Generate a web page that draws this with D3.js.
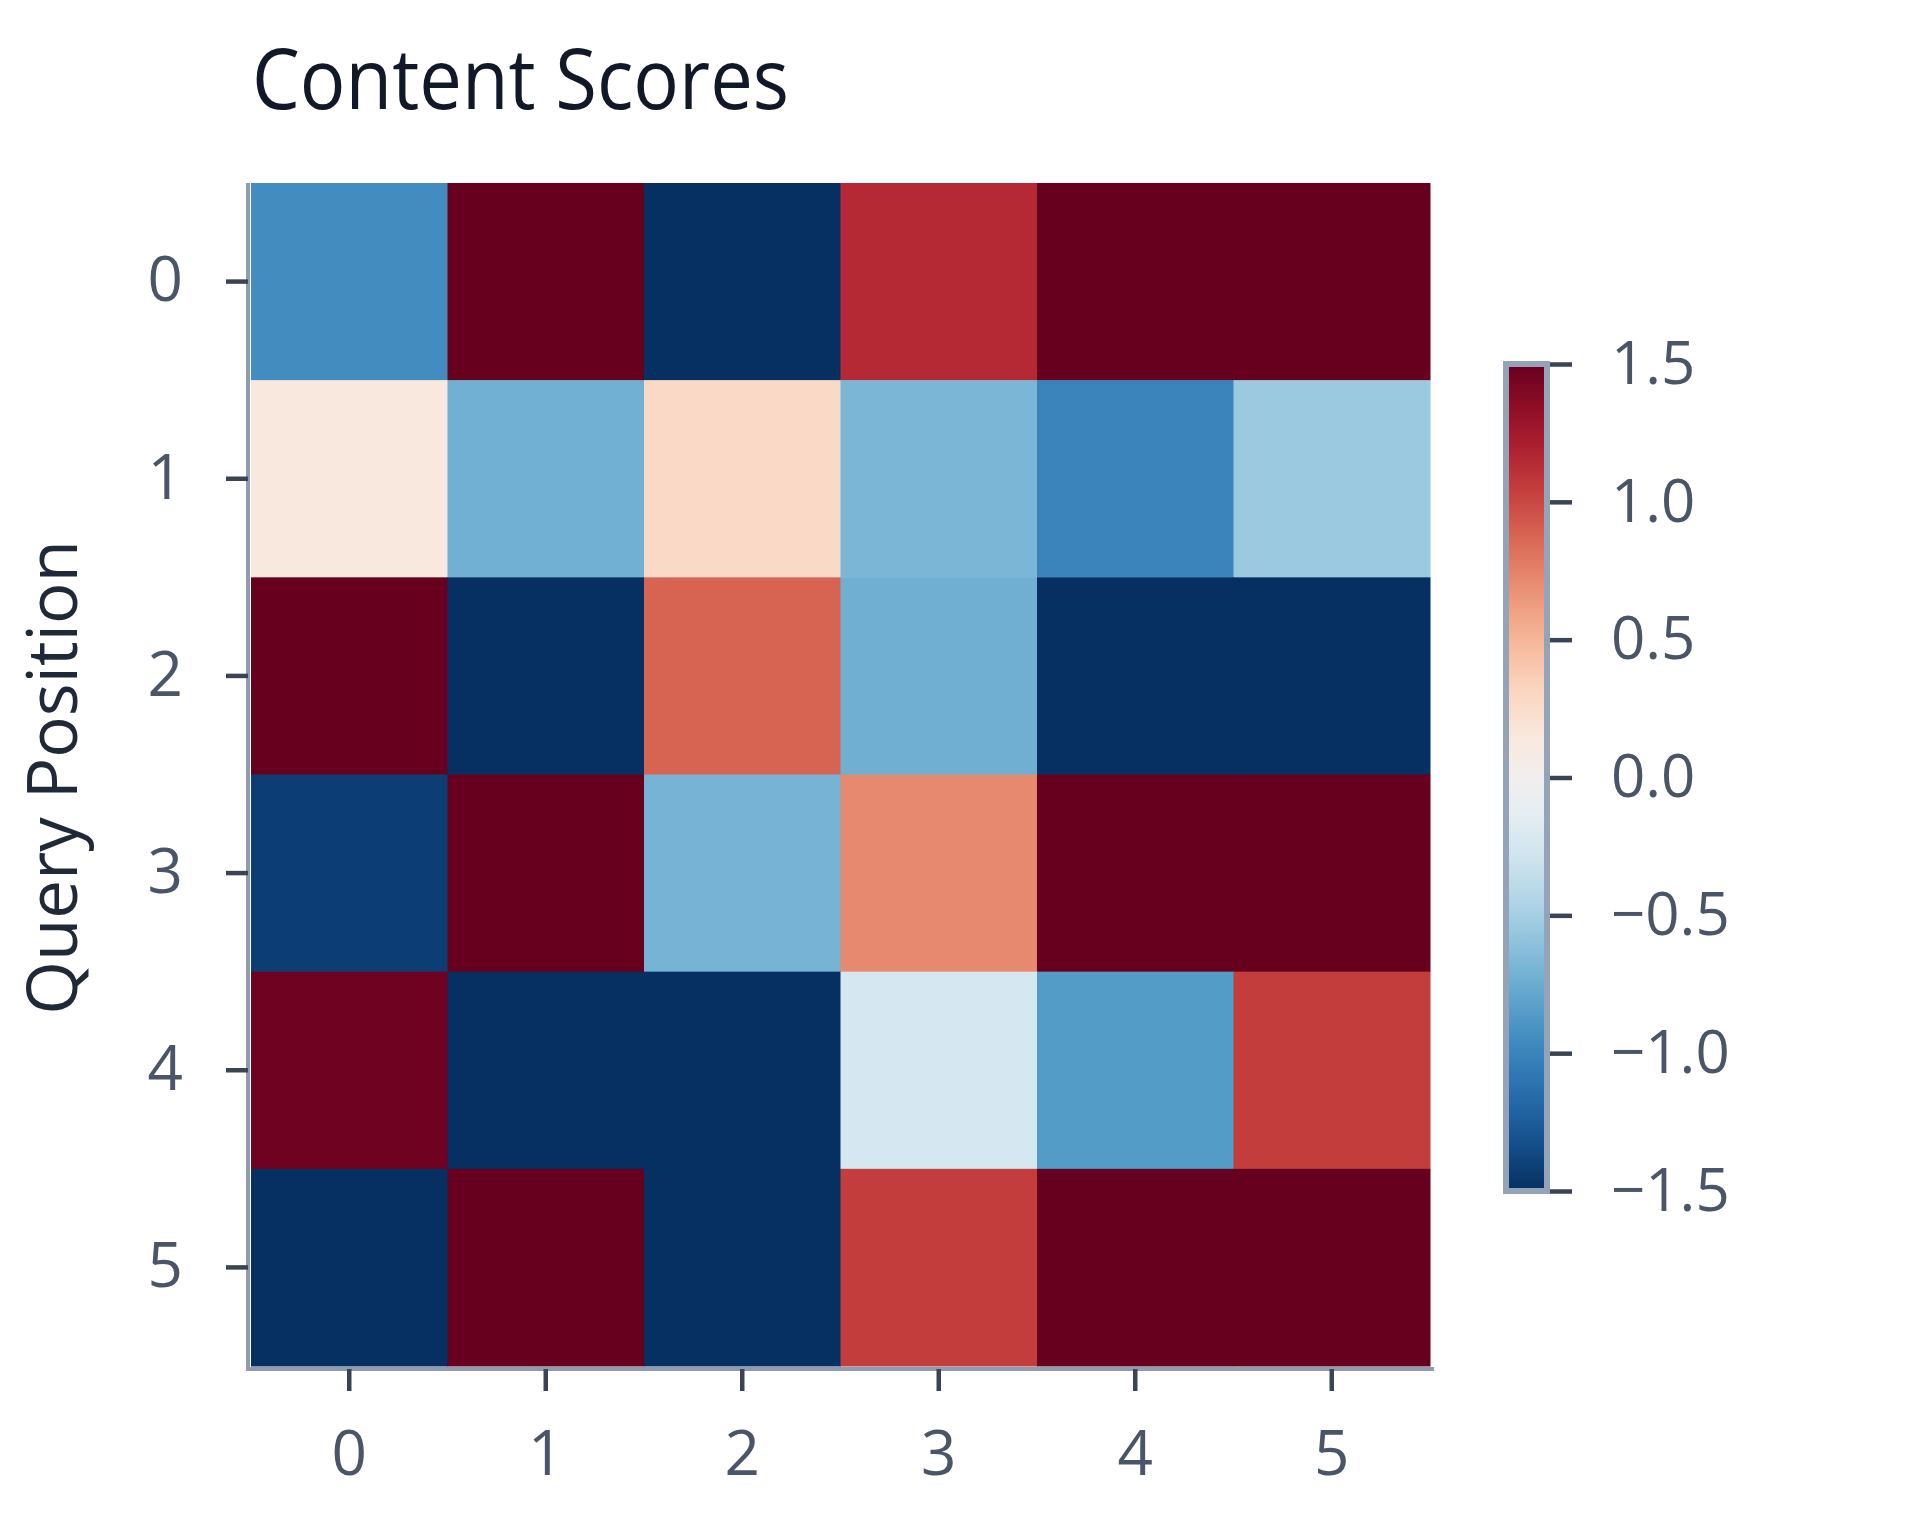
<!DOCTYPE html>
<html>
<head>
<meta charset="utf-8">
<script src="https://cdn.jsdelivr.net/npm/d3@7"></script>
<style>
	body { margin: 0; background: #ffffff; }
	text { font-family: "Open Sans", "Noto Sans", sans-serif; }
</style>
</head>
<body>
<div id="heatChart"></div>
<script>
// key positions (columns) and query positions (rows)
var keyPositions = [0, 1, 2, 3, 4, 5];
var queryPositions = [0, 1, 2, 3, 4, 5];
// content scores, one row per query position
var scoreRow0 = [-0.95, 1.85, -1.90, 1.15, 1.70, 2.05];
var scoreRow1 = [0.15, -0.72, 0.28, -0.68, -1.00, -0.55];
var scoreRow2 = [1.95, -1.80, 0.88, -0.73, -1.75, -2.10];
var scoreRow3 = [-1.42, 1.80, -0.70, 0.72, 1.90, 1.65];
var scoreRow4 = [1.47, -1.85, -1.95, -0.25, -0.85, 1.05];
var scoreRow5 = [-1.75, 1.90, -1.80, 1.05, 1.85, 2.00];
var scoreRows = [scoreRow0, scoreRow1, scoreRow2, scoreRow3, scoreRow4, scoreRow5];
// colour bar range and ticks
var colorMin = -1.5;
var colorMax = 1.5;
var colorTicks = [-1.5, -1.0, -0.5, 0.0, 0.5, 1.0, 1.5];

function drawHeatmap(){
	var width = 1920;
	var height = 1536;
	var plot = {left: 251, right: 1430, top: 183, bottom: 1366};
	var bar = {left: 1506, right: 1547, top: 364, bottom: 1191};

	var svg = d3.select('#heatChart')
			.append('svg')
			.attr('width', width)
			.attr('height', height);

	//define scales
	var x = d3.scaleBand().domain(keyPositions).range([plot.left, plot.right]);
	var y = d3.scaleBand().domain(queryPositions).range([plot.top, plot.bottom]);
	var c = d3.scaleLinear().domain([colorMin, colorMax]).range([1, 0]).clamp(true);
	var color = function(v) { return d3.interpolateRdBu(c(v)); };

	//flatten rows into cells
	var cells = [];
	scoreRows.forEach(function(row, i) {
		row.forEach(function(v, j) {
			cells.push({row: queryPositions[i], col: keyPositions[j], value: v});
		});
	});

	//append cells
	svg.append('g')
		.selectAll('.cell')
		.data(cells)
		.enter()
		.append('rect')
		.attr('class', 'cell')
		.attr('x', function(d) { return x(d.col); })
		.attr('y', function(d) { return y(d.row); })
		.attr('width', x.bandwidth() + 0.5)
		.attr('height', y.bandwidth() + 0.5)
		.style('fill', function(d) { return color(d.value); });

	//y axis
	var yAxis = svg.append('g')
		.attr('class', 'y-axis')
		.attr('transform', 'translate(248,0)')
		.call(d3.axisLeft(y).tickSizeInner(22).tickSizeOuter(0).tickPadding(43));
	yAxis.select('.domain')
		.attr('d', 'M0,' + plot.top + 'V' + (plot.bottom + 5))
		.style('stroke', '#8e9bb0')
		.style('stroke-width', 4);

	//x axis
	var xAxis = svg.append('g')
		.attr('class', 'x-axis')
		.attr('transform', 'translate(0,1369)')
		.call(d3.axisBottom(x).tickSizeInner(22).tickSizeOuter(0).tickPadding(40));
	xAxis.select('.domain')
		.attr('d', 'M' + (plot.left - 5) + ',0H' + (plot.right + 4))
		.style('stroke', '#8e9bb0')
		.style('stroke-width', 4);

	svg.selectAll('.x-axis .tick line, .y-axis .tick line')
		.style('stroke', '#3b4455')
		.style('stroke-width', 4.5);
	svg.selectAll('.x-axis .tick text, .y-axis .tick text')
		.style('fill', '#4a5568')
		.style('font-size', '62px');

	//colour bar gradient
	var grad = svg.append('defs')
		.append('linearGradient')
		.attr('id', 'barGrad')
		.attr('x1', 0).attr('y1', 1)
		.attr('x2', 0).attr('y2', 0);
	d3.range(0, 1.0001, 0.05).forEach(function(t) {
		grad.append('stop')
			.attr('offset', t)
			.attr('stop-color', color(colorMin + t * (colorMax - colorMin)));
	});
	var cb = d3.scaleLinear().domain([colorMin, colorMax]).range([bar.bottom, bar.top]);
	svg.append('rect')
		.attr('x', bar.left)
		.attr('y', cb(colorMax))
		.attr('width', bar.right - bar.left)
		.attr('height', cb(colorMin) - cb(colorMax))
		.style('fill', 'url(#barGrad)')
		.style('stroke', '#94a3b8')
		.style('stroke-width', 6);

	var cAxis = svg.append('g')
		.attr('class', 'c-axis')
		.attr('transform', 'translate(' + (bar.right + 3) + ',0)')
		.call(d3.axisRight(cb).tickValues(colorTicks).tickFormat(d3.format('.1f'))
			.tickSizeInner(22).tickSizeOuter(0).tickPadding(39));
	cAxis.select('.domain').remove();
	cAxis.selectAll('.tick line')
		.style('stroke', '#3b4455')
		.style('stroke-width', 4.5);
	cAxis.selectAll('.tick text')
		.style('fill', '#4a5568')
		.style('font-size', '60px');

	//title
	svg.append('text')
		.attr('x', 252)
		.attr('y', 109)
		.attr('textLength', 537)
		.attr('lengthAdjust', 'spacingAndGlyphs')
		.style('fill', '#111827')
		.style('font-size', '84px')
		.text('Content Scores');

	//y axis label
	svg.append('text')
		.attr('transform', 'translate(77,' + ((plot.top + plot.bottom) / 2 + 3) + ') rotate(-90)')
		.attr('text-anchor', 'middle')
		.style('fill', '#1f2937')
		.style('font-size', '69px')
		.text('Query Position');
}
drawHeatmap();
</script>
</body>
</html>
